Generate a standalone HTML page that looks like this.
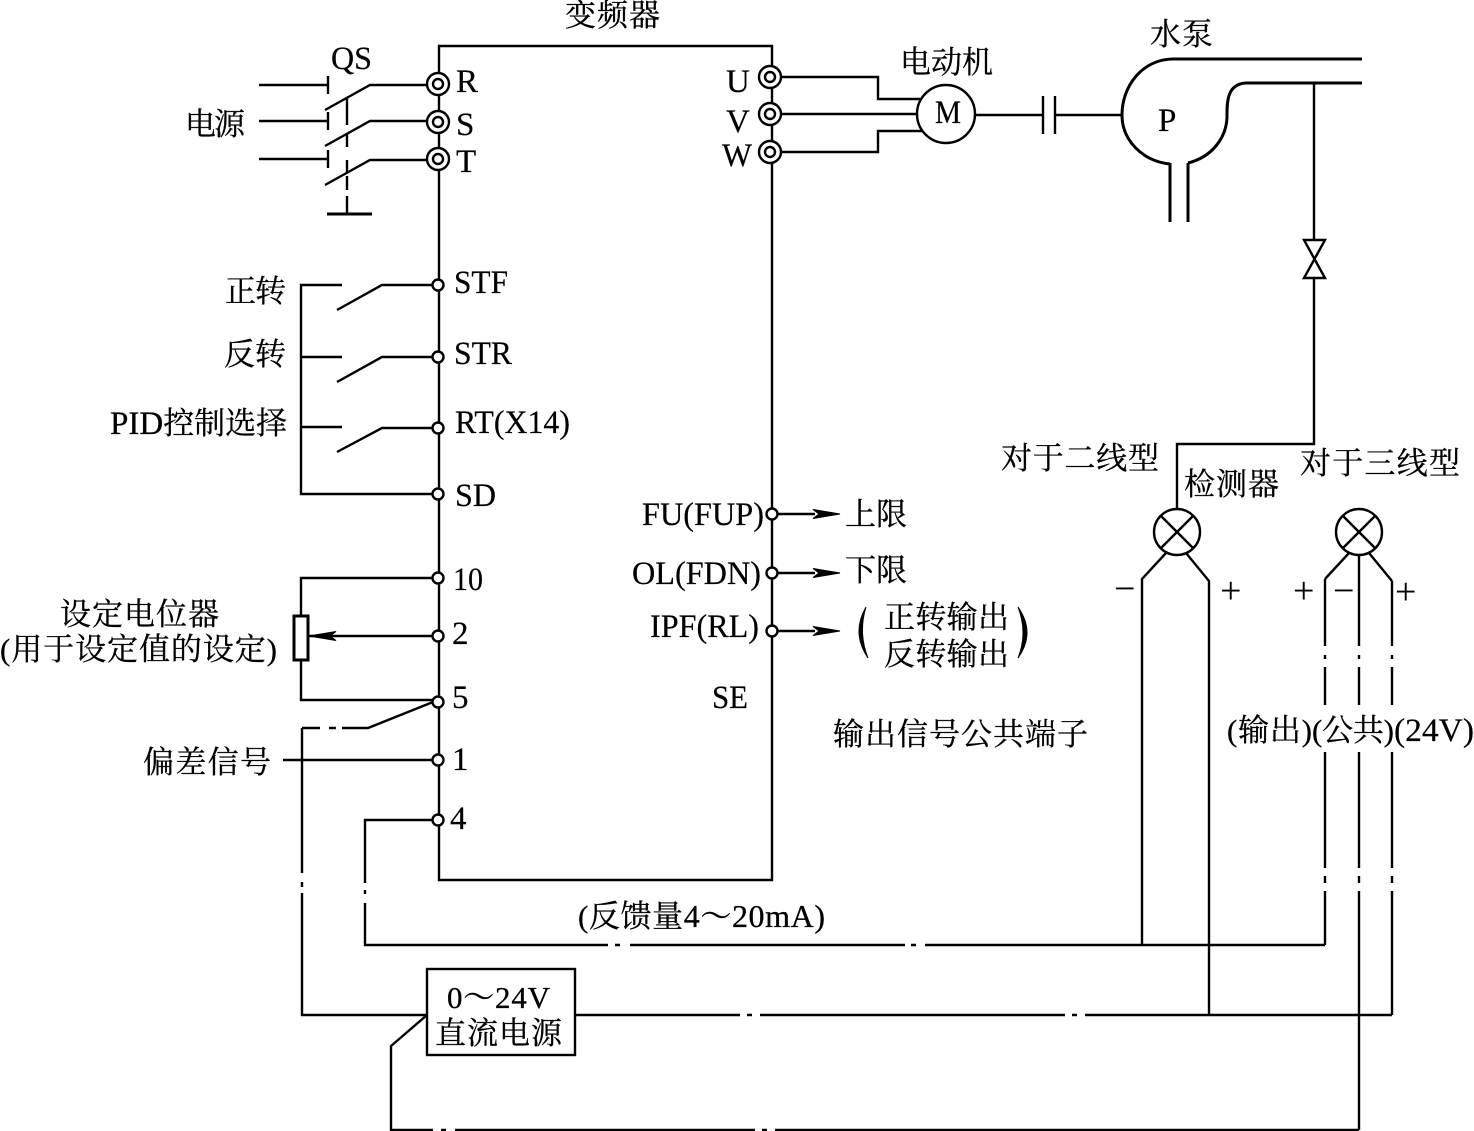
<!DOCTYPE html>
<html><head><meta charset="utf-8"><style>
html,body{margin:0;padding:0;background:#fff}
svg{display:block}
text{font-family:"Liberation Serif","Noto Serif CJK SC",serif;fill:#000;stroke:#000;stroke-width:.3;font-size:31px}
text.a{font-size:33px;stroke-width:.2}
text.p{font-size:38px;stroke-width:0}
.l{fill:none;stroke:#000;stroke-width:2.4}
.t{fill:#fff;stroke:#000;stroke-width:2.4}
</style></head><body>
<svg width="1474" height="1131" viewBox="0 0 1474 1131" xmlns="http://www.w3.org/2000/svg">
<g class="l">
<path d="M439 880V46H772V880Z"/>
<!-- QS -->
<path d="M259 85H328M328 76V94M259 121H328M328 112V130M259 159H328M328 150V168"/>
<path d="M325 110L370 85H428M325 146L370 121H428M325 185L370 160H428"/>
<path d="M347 98V125M347 133V147M347 160V172M347 176V190M347 196V214" />
<path d="M327 214H372" stroke-width="3"/>
<!-- UVW -->
<path d="M770 77H878V99H920M770 114H917M770 152H878V131H922"/>
<circle cx="946" cy="114" r="29"/>
<path d="M975 115H1043M1043 96V134M1055 96V134M1055 115H1122"/>
<!-- pump -->
<path stroke-width="3" d="M1362 59H1172C1142 60 1122 86 1122 115C1122 140 1142 161 1170 164M1170 163V222M1188 163V222M1188 163C1212 157 1226 138 1227 118C1227 104 1226 84 1246 83H1362"/>
<path d="M1314 83V240M1314 278V444H1177V509"/>
<path d="M1304 240H1325L1304 278H1325Z"/>
<!-- sensors -->
<circle cx="1177" cy="532" r="23"/><path d="M1161 516L1193 548M1193 516L1161 548"/>
<circle cx="1359" cy="532" r="23"/><path d="M1343 516L1375 548M1375 516L1343 548"/>
<path d="M1142 945V579L1166 553M1209 1015V581L1186 553"/>
<path d="M1325 579L1349 553M1392 581L1369 553M1359 555V646M1325 579V646M1392 581V646M1325 655V659M1359 655V659M1392 655V659M1325 667V705M1359 667V705M1392 667V705"/>
<path d="M1325 752V868M1325 876V883M1325 891V945M1359 752V868M1359 876V883M1359 891V1130M1392 752V868M1392 876V883M1392 891V1015"/>
<!-- left controls -->
<path d="M342 285H301V494H433M301 357H342M301 427H342M337 310L382 285H433M337 382L382 357H433M337 452L382 428H433"/>
<path d="M301 615V578H433M301 660V700H433M433 636H309"/>
<path d="M302 728H320M329 728H336M342 728H368L433 702"/>
<path d="M283 760H433M302 728V873M302 882V887M302 893V1015H427"/>
<path d="M433 820H365V883M365 890V894M365 903V945H608M615 945H620M630 945H905M911 945H916M925 945H1325"/>
<path d="M575 1015H740M747 1015H752M760 1015H1065M1072 1015H1077M1085 1015H1392"/>
<path d="M427 1015L391 1046V1130H433M441 1130H446M455 1130H755M762 1130H767M775 1130H1359"/>
<path d="M772 514H815M772 573H815M772 631H815"/>
</g>
<path d="M866 607Q851 633 868 658Q858 633 866 607ZM1018 607Q1036 633 1018 658Q1028 633 1018 607Z" fill="#000" stroke="#000" stroke-width="1"/>
<rect x="294" y="616" width="14" height="44" fill="#fff" stroke="#000" stroke-width="3"/>
<path d="M309 636L336 631.5L330 636L336 640.5Z" fill="#000" stroke="#000"/>
<path d="M840 514L813 509.5L819 514L813 518.5Z M840 573L813 568.5L819 573L813 577.5Z M840 631L813 626.5L819 631L813 635.5Z" fill="#000" stroke="#000"/>
<rect x="427" y="969" width="148" height="86" fill="#fff" stroke="#000" stroke-width="2.4"/>
<!-- terminals -->
<g class="t">
<circle cx="438" cy="84" r="11"/><circle cx="438" cy="84" r="5"/>
<circle cx="438" cy="122" r="11"/><circle cx="438" cy="122" r="5"/>
<circle cx="438" cy="159" r="11"/><circle cx="438" cy="159" r="5"/>
<circle cx="770" cy="77" r="11"/><circle cx="770" cy="77" r="5"/>
<circle cx="770" cy="114" r="11"/><circle cx="770" cy="114" r="5"/>
<circle cx="770" cy="152" r="11"/><circle cx="770" cy="152" r="5"/>
<circle cx="438" cy="285" r="5.5"/><circle cx="438" cy="357" r="5.5"/><circle cx="438" cy="428" r="5.5"/><circle cx="438" cy="494" r="5.5"/>
<circle cx="438" cy="578" r="5.5"/><circle cx="438" cy="636" r="5.5"/><circle cx="438" cy="702" r="5.5"/><circle cx="438" cy="760" r="5.5"/><circle cx="438" cy="820" r="5.5"/>
<circle cx="772" cy="514" r="5.5"/><circle cx="772" cy="573" r="5.5"/><circle cx="772" cy="631" r="5.5"/>
</g>
<!-- labels -->
<text x="565" y="26" textLength="95">变频器</text>
<text class="a" x="331" y="69" textLength="41" lengthAdjust="spacingAndGlyphs">QS</text>
<text class="a" x="456" y="92">R</text><text class="a" x="456" y="135">S</text><text class="a" x="456" y="172">T</text>
<text class="a" x="726" y="92">U</text><text class="a" x="726" y="132">V</text><text class="a" x="722" y="166" textLength="30" lengthAdjust="spacingAndGlyphs">W</text>
<text x="900" y="73" textLength="93">电动机</text>
<text class="a" x="935" y="123" textLength="26" lengthAdjust="spacingAndGlyphs">M</text>
<text x="1150" y="45" textLength="63">水泵</text>
<text class="a" x="1158" y="131">P</text>
<text x="185" y="135" textLength="60">电源</text>
<text x="225" y="302" textLength="61">正转</text>
<text x="224" y="365" textLength="62">反转</text>
<text x="110" y="434"><tspan font-size="33">PID</tspan>控制选择</text>
<text class="a" x="454" y="293" textLength="54" lengthAdjust="spacingAndGlyphs">STF</text>
<text class="a" x="454" y="364" textLength="58" lengthAdjust="spacingAndGlyphs">STR</text>
<text class="a" x="455" y="433" textLength="115" lengthAdjust="spacingAndGlyphs">RT(X14)</text>
<text class="a" x="455" y="506" textLength="41" lengthAdjust="spacingAndGlyphs">SD</text>
<text class="a" x="453" y="590" textLength="30" lengthAdjust="spacingAndGlyphs">10</text>
<text class="a" x="452" y="644">2</text><text class="a" x="452" y="708">5</text><text class="a" x="452" y="770">1</text><text class="a" x="450" y="829">4</text>
<text x="60" y="625" textLength="159">设定电位器</text>
<text x="0" y="660" textLength="277">(用于设定值的设定)</text>
<text x="143" y="773" textLength="128">偏差信号</text>
<text class="a" x="642" y="525" textLength="122" lengthAdjust="spacingAndGlyphs">FU(FUP)</text>
<text class="a" x="632" y="584" textLength="129" lengthAdjust="spacingAndGlyphs">OL(FDN)</text>
<text class="a" x="650" y="637" textLength="109" lengthAdjust="spacingAndGlyphs">IPF(RL)</text>
<text class="a" x="712" y="708" textLength="36" lengthAdjust="spacingAndGlyphs">SE</text>
<text x="845" y="525" textLength="62">上限</text>
<text x="845" y="581" textLength="62">下限</text>
<text x="884" y="628" textLength="125">正转输出</text>
<text x="884" y="665" textLength="125">反转输出</text>
<text x="833" y="745" textLength="255">输出信号公共端子</text>
<text x="1001" y="469" textLength="158">对于二线型</text>
<text x="1184" y="495" textLength="95">检测器</text>
<text x="1300" y="474" textLength="160">对于三线型</text>
<text class="p" x="1114" y="601">−</text><text class="p" x="1220" y="603">+</text><text class="p" x="1293" y="603">+</text><text class="p" x="1333" y="603">−</text><text class="p" x="1395" y="604">+</text>
<text x="1227" y="741" textLength="85">(输出)</text>
<text x="1312" y="741" textLength="82">(公共)</text>
<text class="a" x="1394" y="741" textLength="80" lengthAdjust="spacingAndGlyphs">(24V)</text>
<text x="578" y="927" textLength="247">(反馈量<tspan font-size="32">4</tspan>～<tspan font-size="32">20mA)</tspan></text>
<text x="447" y="1008" textLength="103">0～24V</text>
<text x="435" y="1044" textLength="127">直流电源</text>
</svg>
</body></html>
